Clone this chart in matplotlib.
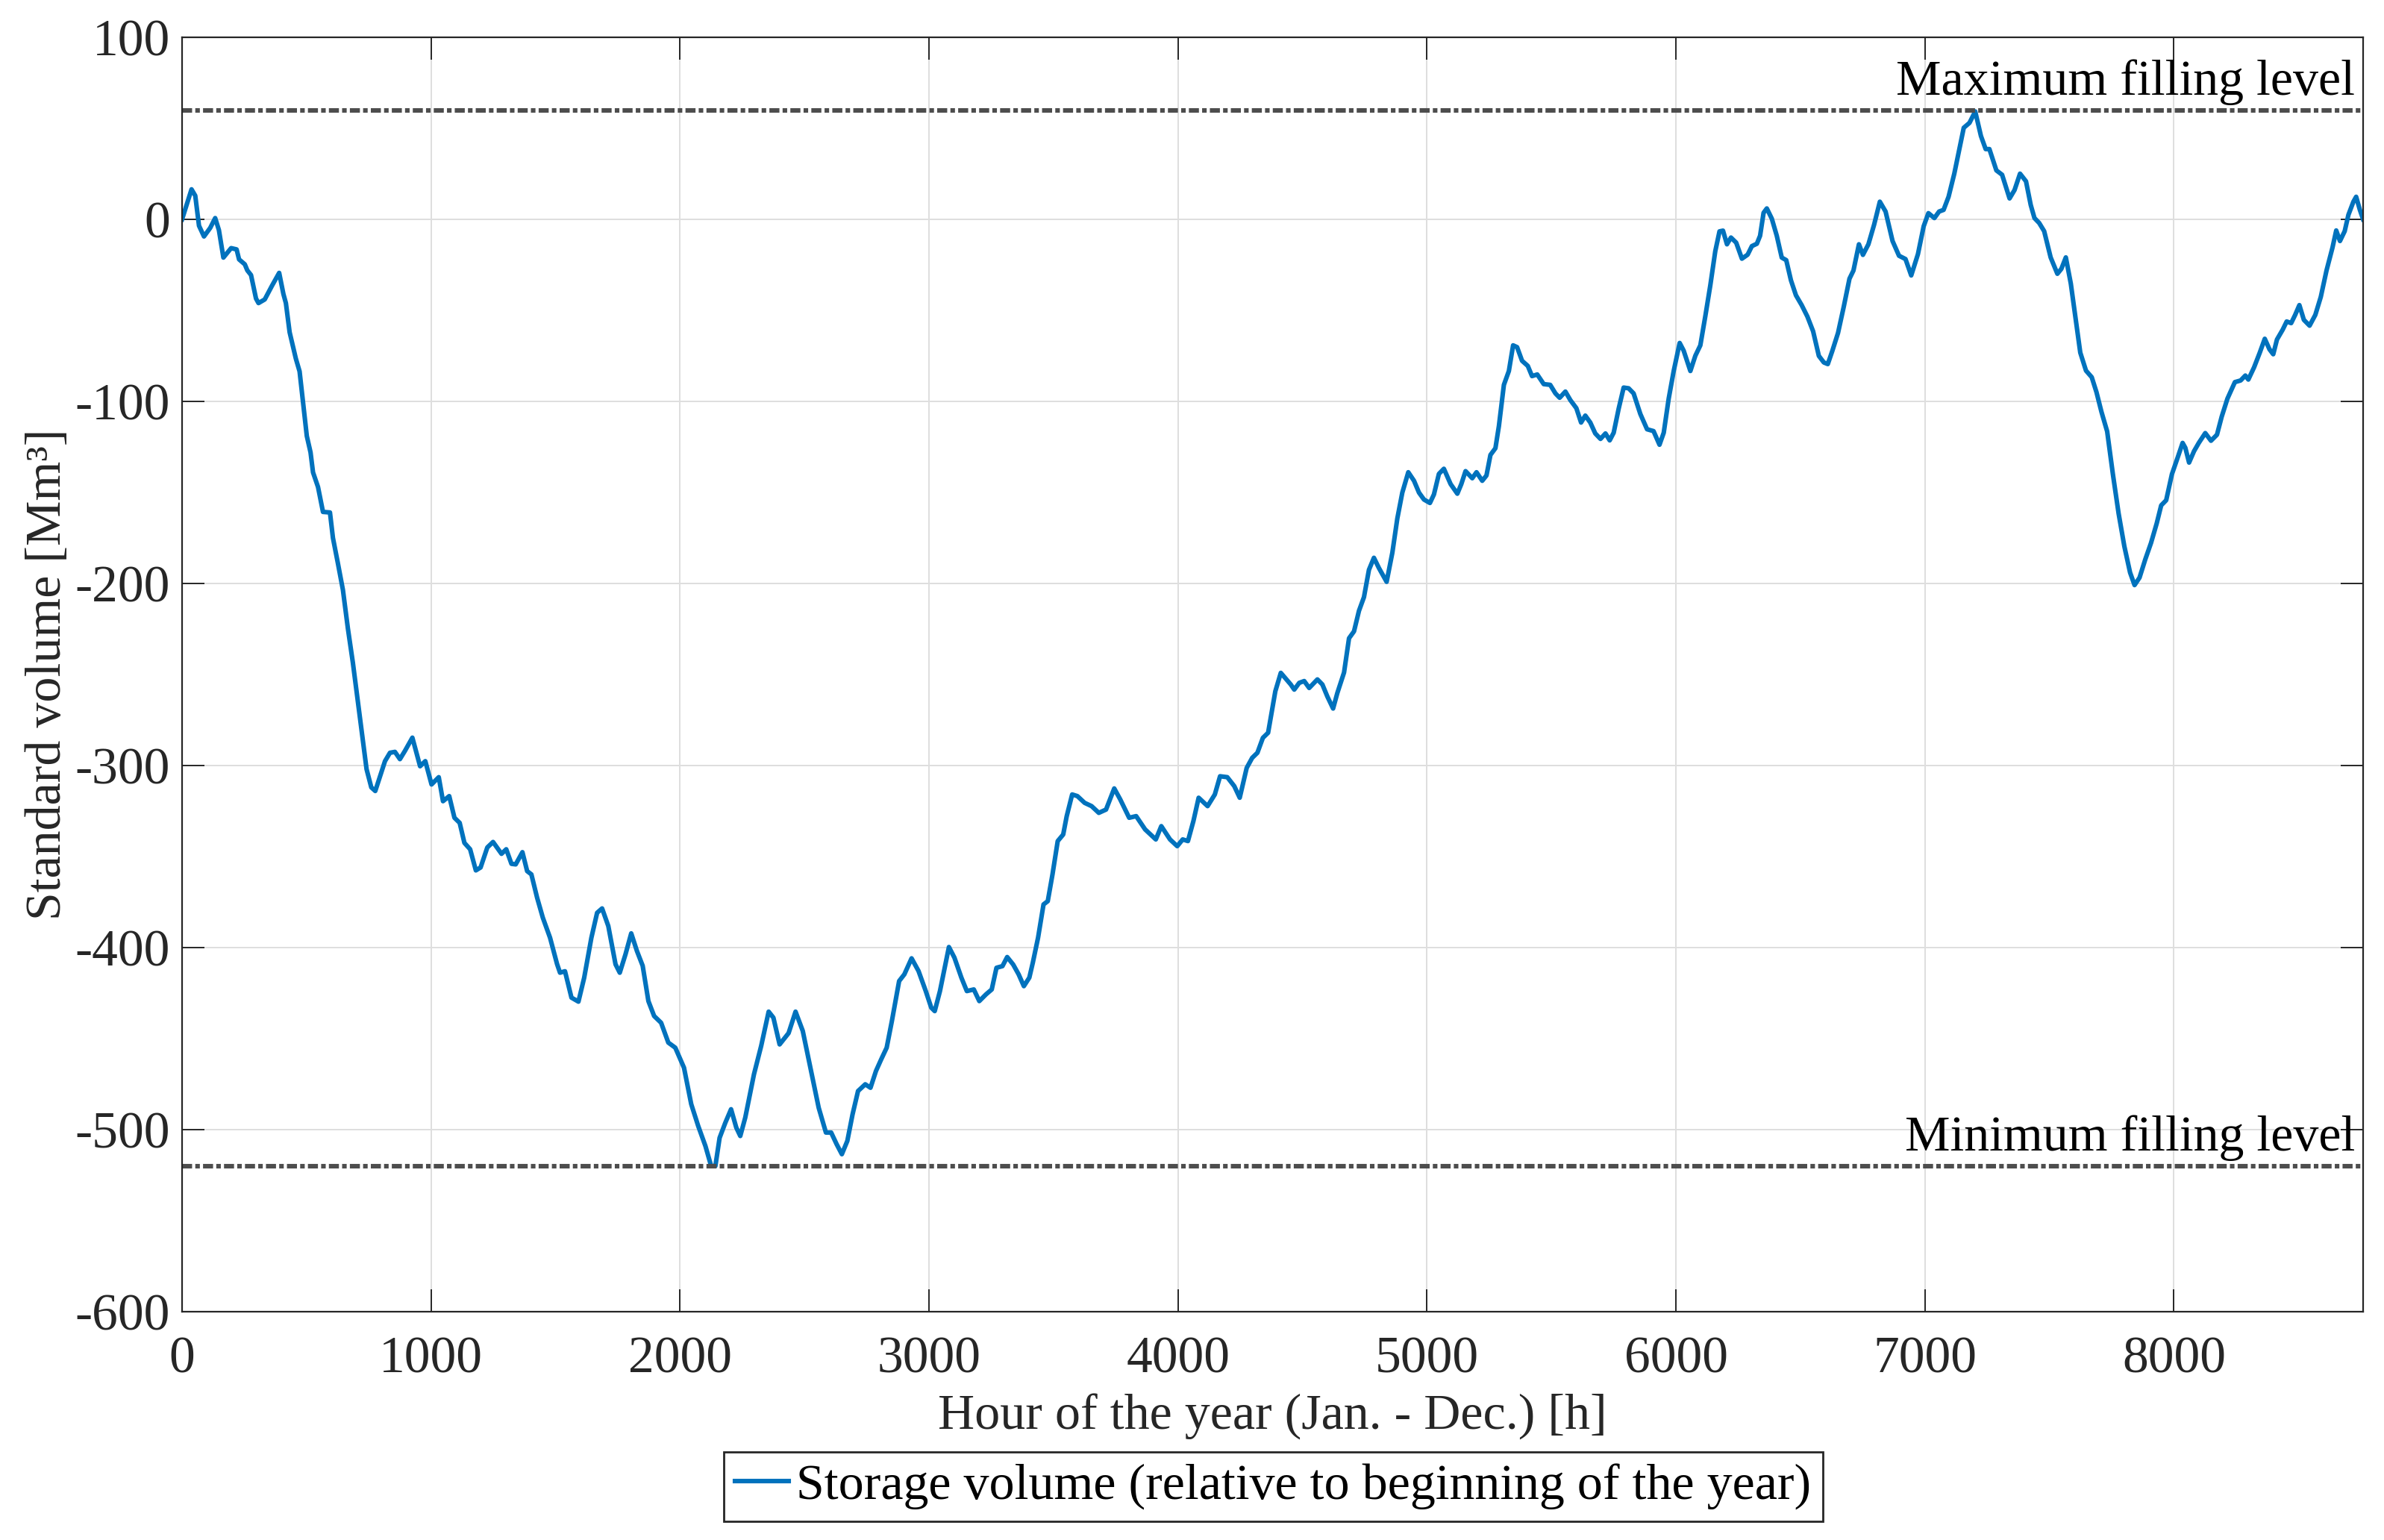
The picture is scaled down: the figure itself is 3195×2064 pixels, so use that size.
import matplotlib
matplotlib.use("Agg")
from matplotlib import pyplot as plt

plt.rcParams['font.family'] = ['Liberation Serif', 'DejaVu Serif']
plt.rcParams['axes.unicode_minus'] = False

# storage volume, hour of year -> Mm3
hours = [0, 38, 53, 68, 88, 113, 133, 148, 166, 197, 219, 229, 252, 262, 277, 297, 307, 332, 361, 390,
         407, 417, 432, 457, 472, 487, 501, 516, 526, 546, 566, 594, 606, 626, 646, 666, 686, 706, 726, 741,
         760, 776, 795, 815, 835, 855, 875, 895, 925, 956, 977, 1002, 1031, 1048, 1073, 1094, 1115, 1134, 1157, 1180,
         1199, 1226, 1249, 1283, 1302, 1323, 1340, 1367, 1386, 1403, 1426, 1449, 1478, 1506, 1518, 1538, 1564, 1592, 1615, 1644,
         1667, 1687, 1712, 1741, 1758, 1781, 1804, 1827, 1850, 1873, 1896, 1924, 1953, 1981, 2016, 2045, 2073, 2102, 2125, 2142,
         2159, 2182, 2205, 2226, 2242, 2262, 2297, 2326, 2356, 2375, 2400, 2436, 2464, 2493, 2529, 2557, 2586, 2607, 2629, 2650,
         2672, 2693, 2715, 2744, 2765, 2787, 2808, 2830, 2851, 2880, 2901, 2930, 2958, 2987, 3009, 3023, 3044, 3080, 3102, 3130,
         3152, 3180, 3202, 3229, 3252, 3271, 3295, 3314, 3338, 3360, 3381, 3403, 3417, 3438, 3460, 3477, 3496, 3517, 3539, 3553,
         3575, 3596, 3625, 3653, 3682, 3711, 3744, 3768, 3804, 3832, 3868, 3911, 3933, 3968, 3997, 4019, 4040, 4062, 4083, 4119,
         4148, 4169, 4198, 4226, 4248, 4276, 4298, 4319, 4341, 4362, 4391, 4413, 4453, 4467, 4487, 4507, 4527, 4560, 4580, 4600,
         4623, 4640, 4667, 4687, 4707, 4727, 4747, 4767, 4787, 4807, 4838, 4861, 4881, 4901, 4925, 4948, 4968, 4988, 5012, 5028,
         5048, 5068, 5095, 5122, 5138, 5155, 5182, 5199, 5222, 5239, 5255, 5275, 5289, 5309, 5329, 5346, 5362, 5382, 5405, 5422,
         5443, 5469, 5495, 5516, 5533, 5556, 5576, 5600, 5619, 5636, 5656, 5676, 5697, 5717, 5734, 5750, 5770, 5790, 5810, 5830,
         5857, 5884, 5910, 5934, 5951, 5971, 5991, 6015, 6031, 6058, 6078, 6098, 6118, 6138, 6158, 6175, 6189, 6205, 6221, 6242,
         6265, 6288, 6305, 6325, 6338, 6352, 6365, 6385, 6405, 6425, 6443, 6462, 6482, 6505, 6528, 6551, 6574, 6594, 6610, 6628,
         6651, 6674, 6697, 6713, 6735, 6751, 6773, 6796, 6819, 6842, 6870, 6896, 6922, 6945, 6972, 6995, 7014, 7038, 7057, 7075,
         7095, 7118, 7141, 7156, 7179, 7202, 7225, 7244, 7259, 7287, 7310, 7340, 7360, 7382, 7406, 7425, 7440, 7459, 7479, 7505,
         7532, 7548, 7566, 7586, 7606, 7624, 7647, 7670, 7689, 7709, 7732, 7755, 7778, 7801, 7824, 7842, 7862, 7885, 7908, 7931,
         7949, 7969, 7992, 8015, 8035, 8046, 8061, 8081, 8100, 8126, 8149, 8173, 8192, 8215, 8245, 8268, 8287, 8299, 8322, 8345,
         8365, 8384, 8399, 8414, 8437, 8453, 8471, 8487, 8504, 8522, 8545, 8568, 8590, 8613, 8637, 8652, 8667, 8686, 8701, 8721,
         8732, 8747, 8760]
volume = [0, 16.5, 13, -3.5, -9.4, -4.7, 0.7, -5.9, -21, -15.8, -16.5, -22, -24.7, -28, -30.6, -43.5, -46, -44, -36.5, -29.4,
          -41, -46, -62, -76.5, -83.5, -102, -119, -128, -139, -147, -160.7, -161, -175, -189, -203.5, -224.7, -243.5, -264.7, -286, -302,
          -312, -314, -306, -297.6, -293, -292.5, -296.5, -292, -284.7, -300.4, -297.6, -310.4, -306.4, -319.6, -316.8, -328.7, -331.5, -342.5, -346, -357.6,
          -356, -345, -342, -348.5, -346, -354, -354.3, -347.6, -358, -359.8, -372.6, -383.6, -394.6, -409, -413.8, -413, -427.5, -429.7, -416.6, -394.6,
          -380.9, -378.5, -388.2, -409.2, -413.8, -403.7, -392.2, -401.9, -410, -429.4, -437.6, -441.3, -452.2, -455, -466, -486, -498, -509, -520, -520,
          -504.5, -496.2, -488.8, -498.9, -503.5, -493.4, -469.6, -454, -435.2, -438.5, -453.2, -447, -435.2, -445.8, -469.6, -488, -501.6, -501.6, -508, -513.5,
          -506.2, -491.6, -478.8, -475.1, -477, -467.8, -461.4, -455, -440.3, -418.4, -414.7, -405.9, -412.9, -423.9, -433, -434.9, -423.9, -399.7, -405.5, -416.5,
          -423.9, -423, -429.4, -425.7, -423, -411.1, -410.2, -405.2, -409.3, -414.7, -421.2, -416.5, -408.3, -394.6, -376.3, -374.5, -359.8, -341.5, -337.9, -327.9,
          -315.9, -316.8, -320.5, -322.3, -326, -324.2, -312.6, -318.6, -328.7, -327.8, -335.1, -340.6, -333.3, -340.6, -344.3, -340.6, -341.5, -330.5, -317.7, -322.3,
          -315.9, -305.9, -306.4, -311.3, -317.7, -301.3, -295.8, -293, -284.8, -282, -259.2, -249.1, -255.5, -258.3, -254.6, -253.6, -257.4, -252.7, -255.5, -262.1,
          -268.7, -260.2, -248.9, -230.1, -226.3, -215, -207.5, -192.5, -185.9, -191.5, -199.1, -183.1, -164.3, -150.1, -138.9, -143.6, -150.1, -153.9, -155.8, -151.1,
          -139.8, -137, -145.4, -150.7, -145.4, -138.3, -142.2, -138.9, -143.6, -140.7, -129.4, -125.7, -113.5, -90.9, -83.3, -69.2, -70.2, -77.7, -80.5, -86.1,
          -85.2, -90.5, -90.9, -95.6, -98, -94.6, -99.3, -103.7, -111.6, -107.8, -111.6, -117.6, -120.6, -117.6, -121.4, -117.2, -104, -92.4, -92.8, -95.6,
          -106.9, -115.3, -116.3, -123.8, -117.2, -98.4, -83.3, -67.9, -72.1, -83.3, -74.9, -69.2, -53.2, -36.3, -17.5, -6.6, -6.2, -13.7, -10, -12.8,
          -21.6, -19.4, -14.7, -13.4, -9, 3.6, 6, 0.4, -9, -21, -22.4, -33.5, -41.7, -47.1, -53.4, -61.5, -75, -78.6, -79.5, -72.3,
          -62.4, -48, -32.6, -28.1, -13.7, -19.5, -13.7, -2.9, 9.7, 4.3, -11.9, -20, -21.8, -30.8, -19.1, -3.8, 3.4, 0.7, 4.3, 5.2,
          12.4, 25.1, 40.4, 50.3, 53, 59.3, 45.8, 38.6, 38.6, 26.9, 24.5, 11.5, 16.1, 25.1, 20.9, 7.9, 0.7, -2, -6.5, -20.9,
          -29.9, -27.2, -20.9, -35.3, -55.2, -73.2, -83.1, -86.7, -94.9, -105.7, -116.5, -140, -161.6, -179.6, -194, -200.9, -196.8, -186.8, -177.8, -167,
          -157.1, -154.3, -140, -130.9, -122.8, -125.5, -133.6, -127.3, -122.8, -117.4, -121.6, -118.3, -108.4, -98.5, -89.4, -88.5, -85.8, -88, -81.3, -73.2,
          -65.6, -71.4, -74.1, -66, -60.6, -56.1, -57, -52.5, -47.1, -55.2, -58.4, -52.5, -42.6, -28.1, -15.5, -6.1, -11.9, -6.5, 2.5, 9.7,
          12.4, 5.2, 0]

max_level = 60
min_level = -520
x_ticks = list(range(0, 9000, 1000))
y_ticks = list(range(-600, 101, 100))

fig = plt.figure(figsize=(15.975, 10.32), dpi=200)
ax = fig.add_axes([0.07637, 0.14826, 0.91487, 0.82752])

ax.plot(hours, volume, color='#0072BD', lw=2.2,
        label='Storage volume (relative to beginning of the year)')
dash = (0, (2.2, 0.7, 1.0, 0.7))
ax.axhline(max_level, color='#4d4d4d', lw=2.2, linestyle=dash, dash_capstyle='butt')
ax.axhline(min_level, color='#4d4d4d', lw=2.2, linestyle=dash, dash_capstyle='butt')
ax.text(8728, max_level + 8.5, 'Maximum filling level', ha='right', va='baseline', fontsize=24.5, color='k')
ax.text(8728, min_level + 8.5, 'Minimum filling level', ha='right', va='baseline', fontsize=24.5, color='k')

ax.set_xlim(0, 8760)
ax.set_ylim(-600, 100)
ax.set_xticks(x_ticks)
ax.set_yticks(y_ticks)
ax.grid(True, color='#dedede', lw=0.7)
ax.set_axisbelow(True)
ax.tick_params(direction='in', length=10.8, width=0.7, top=True, right=True,
               labelsize=25, color='#262626', labelcolor='#262626')
ax.tick_params(axis='x', pad=12)
ax.tick_params(axis='y', pad=5.8)
for s in ax.spines.values():
    s.set_color('#262626')
    s.set_linewidth(0.8)

ax.set_xlabel('Hour of the year (Jan. - Dec.) [h]', fontsize=24.5, color='#262626')
ax.set_ylabel('Standard volume [Mm³]', fontsize=24.5, color='#262626')
ax.xaxis.set_label_coords(0.5, -0.0644)
ax.yaxis.set_label_coords(-0.051, 0.5)

fig.legend(loc='upper center', bbox_to_anchor=(0.534, 0.0572), fontsize=24.5,
           frameon=True, fancybox=False, edgecolor='#262626', framealpha=1,
           borderaxespad=0, handlelength=1.05, handletextpad=0.15, borderpad=0.23)

fig.savefig('out.png', dpi=200)
